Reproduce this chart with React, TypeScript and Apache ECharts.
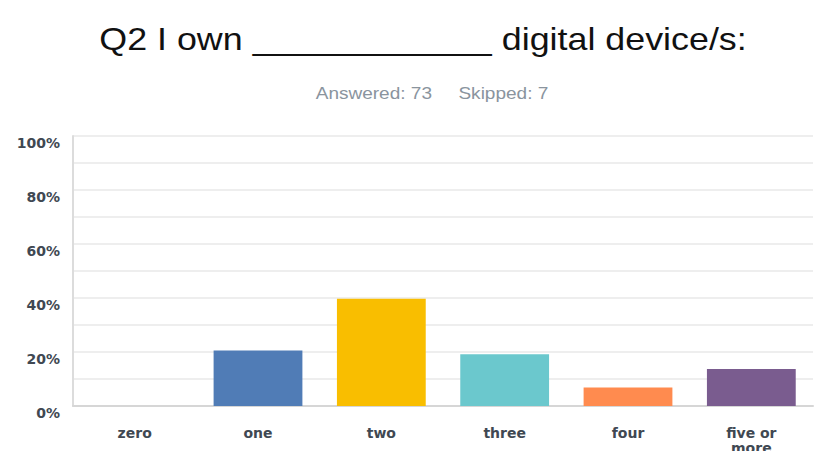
import React, { useEffect, useRef } from "react";
import * as echarts from "echarts";

const categories = ["zero", "one", "two", "three", "four", "five or\nmore"];
const values = [0, 0.2055, 0.3973, 0.1918, 0.0685, 0.137];
const barColors = ["#507cb6", "#507cb6", "#f9be00", "#6bc8cd", "#ff8b4f", "#7a5c8f"];
const titleText = "Q2 I own ____________ digital device/s:";
const subtitleText = "Answered: 73     Skipped: 7";

export default function App() {
  const ref = useRef<HTMLDivElement>(null);
  useEffect(() => {
    const chart = echarts.init(ref.current!, null, { renderer: "svg" });
    chart.setOption({
      animation: false,
      graphic: [
        {
          type: "text",
          x: 423,
          y: 55,
          scaleX: 1.12,
          style: {
            text: titleText,
            fontFamily: "Liberation Sans",
            fontSize: 32,
            fill: "#111111",
            textAlign: "center",
            textVerticalAlign: "bottom",
          },
        },
        {
          type: "text",
          x: 432,
          y: 93,
          scaleX: 1.12,
          style: {
            text: subtitleText,
            fontFamily: "Liberation Sans",
            fontSize: 17,
            fill: "#8a949e",
            textAlign: "center",
            textVerticalAlign: "middle",
          },
        },
      ],
      grid: { left: 73, right: 5, top: 136, bottom: 45, outerBoundsMode: "none", containLabel: false },
      xAxis: {
        type: "category",
        data: categories,
        axisLine: { lineStyle: { color: "#d6d6d6", width: 2 } },
        axisTick: { show: false },
        axisLabel: {
          color: "#404852",
          fontFamily: "DejaVu Sans",
          fontWeight: "bold",
          fontSize: 14,
          margin: 19,
          lineHeight: 15,
        },
      },
      yAxis: {
        type: "value",
        min: 0,
        max: 1,
        interval: 0.1,
        axisLine: { show: true, lineStyle: { color: "#dcdcdc", width: 2 } },
        axisTick: { show: false },
        splitLine: { lineStyle: { color: "#eeeeee", width: 2 } },
        axisLabel: {
          color: "#404852",
          fontFamily: "DejaVu Sans",
          fontWeight: "bold",
          fontSize: 14,
          margin: 13,
          verticalAlign: "top",
          formatter: (v: number) => {
            const p = Math.round(v * 100);
            return p % 20 === 0 ? p + "%" : "";
          },
        },
      },
      series: [
        {
          type: "bar",
          data: values.map((v, i) => ({ value: v, itemStyle: { color: barColors[i] } })),
          barWidth: "72%",
        },
      ],
    });
    return () => chart.dispose();
  }, []);
  return <div ref={ref} style={{ width: 818, height: 451, position: "absolute", left: 0, top: 0 }} />;
}
